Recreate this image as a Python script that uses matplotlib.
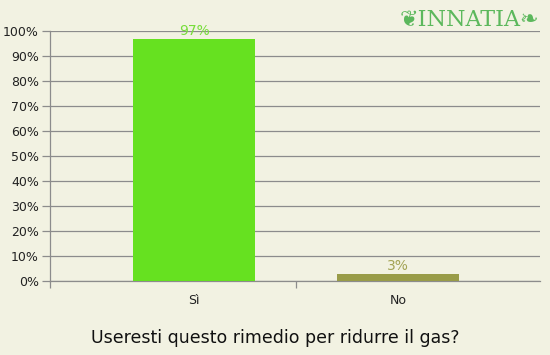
import matplotlib
matplotlib.use("Agg")
import matplotlib.pyplot as plt

categories = ["Sì", "No"]
values = [97, 3]
bar_colors = ["#66e120", "#999c48"]
label_colors = ["#77dd3a", "#a3a354"]
yticks = list(range(0, 101, 10))
title = "Useresti questo rimedio per ridurre il gas?"

bg = "#f2f2e2"
grid_c = "#8c8c8c"

fig = plt.figure(figsize=(5.5, 3.55), dpi=100, facecolor=bg)
ax = fig.add_axes([50/550, 1-281/355, 490/550, 250/355], facecolor=bg)

x = list(range(len(categories)))
ax.bar(x, values, width=0.6, color=bar_colors, zorder=3)
for xi, v, c in zip(x, values, label_colors):
    ax.text(xi, v + 0.3, f"{v}%", ha="center", va="bottom", color=c, fontsize=10, zorder=4)

ax.set_xlim(-0.706, 1.696)
ax.set_ylim(0, 100)
ax.set_yticks(yticks)
ax.set_yticklabels([f"{t}%" for t in yticks], fontsize=9, color="#222222")
ax.yaxis.grid(True, color=grid_c, linewidth=0.9, zorder=0)
ax.tick_params(axis="y", length=6, color=grid_c, width=0.9, pad=2)

ax.set_xticks([-0.706, 0.5])
ax.set_xticklabels([])
ax.tick_params(axis="x", length=5, color=grid_c, width=0.9)
ax.set_xticks(x, minor=True)
ax.set_xticklabels(categories, minor=True, fontsize=9, color="#222222")
ax.tick_params(axis="x", which="minor", length=0, pad=9)

for s in ["top", "right"]:
    ax.spines[s].set_visible(False)
for s in ["left", "bottom"]:
    ax.spines[s].set_color(grid_c)
    ax.spines[s].set_linewidth(0.9)

fig.text(0.5, 1-338/355, title, ha="center", va="center", fontsize=12.5, color="#111111")
fig.text(469/550, 1-20/355, "❦INNATIA❧", ha="center", va="center", fontsize=16,
         color="#5cb85c", family=["DejaVu Serif", "DejaVu Sans"])

fig.savefig("out.png", dpi=100, facecolor=bg)
